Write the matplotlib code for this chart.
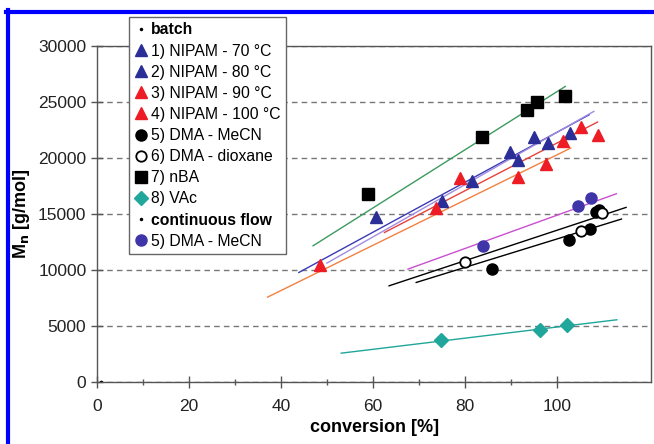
import numpy as np
import matplotlib
matplotlib.use("Agg")
import matplotlib.pyplot as plt
from matplotlib.lines import Line2D

plt.rcParams['font.family'] = ['Liberation Sans', 'DejaVu Sans']

# punkty pomiarowe (konwersja [%], Mn [g/mol])
nipam70_x = [60.6, 81.6, 91.5, 98.0]
nipam70_y = [14710, 17890, 19760, 21310]
nipam80_x = [75.1, 89.8, 94.9, 102.9]
nipam80_y = [16100, 20480, 21850, 22210]
nipam90_x = [78.9, 101.2, 105.2, 108.8]
nipam90_y = [18190, 21520, 22710, 22060]
nipam100_x = [48.4, 73.7, 91.5, 97.7]
nipam100_y = [10450, 15510, 18280, 19440]
dma_mecn_x = [85.9, 102.5, 107.2, 108.5, 109.2]
dma_mecn_y = [10060, 12680, 13660, 15150, 15360]
dma_diox_x = [79.9, 105.1, 109.7]
dma_diox_y = [10740, 13480, 15060]
nba_x = [58.9, 83.8, 93.4, 95.6, 101.7]
nba_y = [16790, 21850, 24290, 24940, 25480]
vac_x = [74.8, 96.4, 102.2]
vac_y = [3690, 4640, 5030]
flow_x = [84.0, 104.5, 107.4]
flow_y = [12140, 15720, 16400]

# linie dopasowania (poczatek, koniec)
fit_nipam70_x = [43.9, 107.0]
fit_nipam70_y = [9760, 23840]
fit_nipam80_x = [50.0, 108.0]
fit_nipam80_y = [10600, 24140]
fit_nipam90_x = [62.5, 108.8]
fit_nipam90_y = [13330, 23190]
fit_nipam100_x = [37.1, 103.0]
fit_nipam100_y = [7560, 20870]
fit_dma_mecn_x = [69.4, 114.0]
fit_dma_mecn_y = [8870, 14530]
fit_dma_diox_x = [63.5, 115.0]
fit_dma_diox_y = [8570, 15570]
fit_nba_x = [47.0, 101.8]
fit_nba_y = [12145, 26370]
fit_vac_x = [53.1, 113.0]
fit_vac_y = [2560, 5540]
fit_flow_x = [67.6, 112.9]
fit_flow_y = [10060, 16790]

x_ticks = [0, 20, 40, 60, 80, 100]
y_ticks = [0, 5000, 10000, 15000, 20000, 25000, 30000]

fig = plt.figure(figsize=(6.54, 4.44), dpi=100)
ax = fig.add_axes([0.148, 0.140, 0.848, 0.757])

# ramka niebieska (przycieta)
fig.add_artist(Line2D([6 / 654, 1.0], [1 - 12 / 444, 1 - 12 / 444], color='#0000FF', lw=3.0))
fig.add_artist(Line2D([8 / 654, 8 / 654], [0, 1 - 10 / 444], color='#0000FF', lw=3.0))

# linie
ax.plot(fit_nba_x, fit_nba_y, color='#3C9A5F', lw=1.0)
ax.plot(fit_nipam70_x, fit_nipam70_y, color='#3A3AB5', lw=1.0)
ax.plot(fit_nipam80_x, fit_nipam80_y, color='#A08CE0', lw=1.0)
ax.plot(fit_nipam90_x, fit_nipam90_y, color='#E8413C', lw=1.0)
ax.plot(fit_nipam100_x, fit_nipam100_y, color='#F28040', lw=1.0)
ax.plot(fit_flow_x, fit_flow_y, color='#C94FCF', lw=1.0)
ax.plot(fit_dma_diox_x, fit_dma_diox_y, color='black', lw=1.0)
ax.plot(fit_dma_mecn_x, fit_dma_mecn_y, color='black', lw=1.0)
ax.plot(fit_vac_x, fit_vac_y, color='#20A69A', lw=1.0)

blue = '#2B2E96'
red = '#EE1C25'
ax.plot([1], [0], ls='none', marker='.', ms=3, color='black', label='batch')
ax.plot(nipam70_x, nipam70_y, ls='none', marker='^', ms=9, color=blue, label='1) NIPAM - 70 °C')
ax.plot(nipam80_x, nipam80_y, ls='none', marker='^', ms=9, color=blue, label='2) NIPAM - 80 °C')
ax.plot(nipam90_x, nipam90_y, ls='none', marker='^', ms=9, color=red, label='3) NIPAM - 90 °C')
ax.plot(nipam100_x, nipam100_y, ls='none', marker='^', ms=9, color=red, label='4) NIPAM - 100 °C')
ax.plot(dma_mecn_x, dma_mecn_y, ls='none', marker='o', ms=8, color='black', label='5) DMA - MeCN')
ax.plot(dma_diox_x, dma_diox_y, ls='none', marker='o', ms=7.5, mfc='white', mec='black', mew=1.3,
        label='6) DMA - dioxane')
ax.plot(nba_x, nba_y, ls='none', marker='s', ms=8.5, color='black', label='7) nBA')
ax.plot(vac_x, vac_y, ls='none', marker='D', ms=7, color='#20A69A', label='8) VAc')
ax.plot([1], [0], ls='none', marker='.', ms=3, color='black', label='continuous flow')
ax.plot(flow_x, flow_y, ls='none', marker='o', ms=8, color='#3F35A8', label='5) DMA - MeCN')

ax.set_xlim(0, 120.5)
ax.set_ylim(0, 30000)
ax.set_xticks(x_ticks)
ax.set_xticks(np.arange(10, 101, 20), minor=True)
ax.set_yticks(y_ticks)
ax.tick_params(axis='both', which='major', direction='inout', length=8, width=1, color='#555555',
               labelsize=12.5, labelcolor='#222222')
ax.tick_params(axis='x', which='minor', direction='inout', length=5, width=1, color='#555555')
ax.tick_params(axis='x', which='major', pad=8)
for s in ax.spines.values():
    s.set_color('#555555')
    s.set_linewidth(1.0)

ax.yaxis.grid(True, ls=(0, (4, 3)), color='#777777', lw=1.0)
ax.set_axisbelow(True)

ax.set_xlabel('conversion [%]', fontsize=13, fontweight='bold', labelpad=4)
ax.set_ylabel(r'M$_\mathbf{n}$ [g/mol]', fontsize=13, fontweight='bold', labelpad=4)

leg = ax.legend(loc='upper left', bbox_to_anchor=(129 / 654, 1 - 17 / 444), bbox_transform=fig.transFigure,
                borderaxespad=0, fancybox=False, framealpha=1, edgecolor='#666666', fontsize=11.3,
                handlelength=0.8, handletextpad=0.25, labelspacing=0.39, borderpad=0.35, markerscale=1.0)
leg.get_frame().set_linewidth(1.0)
for t in leg.get_texts():
    if t.get_text() in ('batch', 'continuous flow'):
        t.set_fontweight('bold')

fig.savefig('out.png', dpi=100)
